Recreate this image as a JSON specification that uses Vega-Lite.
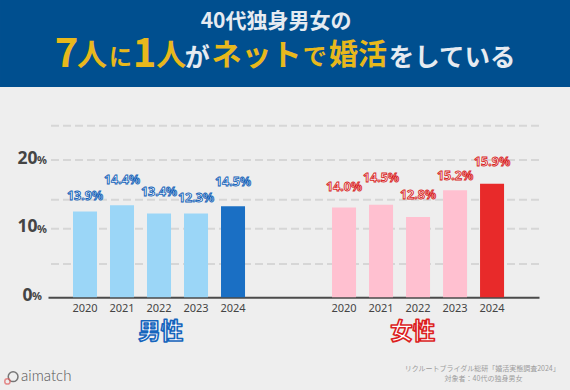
{"$schema":"https://vega.github.io/schema/vega-lite/v6.json","width":491,"height":171.6,"autosize":"none","padding":{"left":48,"top":125.7,"right":31,"bottom":92.7},"background":"#eeeeee","view":{"stroke":null},"config":{"font":"Noto Sans CJK JP"},
"datasets":{"bars":[
{"slot":"男性2020","series":"男性","kind":"男性過去","rate":12.5,"label":"13.9%","labelAt":14.76},
{"slot":"男性2021","series":"男性","kind":"男性過去","rate":13.4,"label":"14.4%","labelAt":17.1},
{"slot":"男性2022","series":"男性","kind":"男性過去","rate":12.2,"label":"13.4%","labelAt":15.4},
{"slot":"男性2023","series":"男性","kind":"男性過去","rate":12.2,"label":"12.3%","labelAt":14.4},
{"slot":"男性2024","series":"男性","kind":"男性最新","rate":13.25,"label":"14.5%","labelAt":16.8},
{"slot":"女性2020","series":"女性","kind":"女性過去","rate":13.1,"label":"14.0%","labelAt":16.0},
{"slot":"女性2021","series":"女性","kind":"女性過去","rate":13.5,"label":"14.5%","labelAt":17.4},
{"slot":"女性2022","series":"女性","kind":"女性過去","rate":11.7,"label":"12.8%","labelAt":14.9},
{"slot":"女性2023","series":"女性","kind":"女性過去","rate":15.6,"label":"15.2%","labelAt":17.6},
{"slot":"女性2024","series":"女性","kind":"女性最新","rate":16.55,"label":"15.9%","labelAt":19.7}],
"grid":[{"g":4.85},{"g":10},{"g":14.2},{"g":20},{"g":25}],
"heading":[
{"t":"7","u":9.6,"v":14.2,"s":40,"c":"#e8b81c"},
{"t":"人","u":13.5,"v":14.4,"s":30,"c":"#e8b81c"},
{"t":"に","u":19.1,"v":14.8,"s":23,"c":"#e8b81c"},
{"t":"1","u":23.3,"v":14.2,"s":40,"c":"#e8b81c"},
{"t":"人","u":27.4,"v":14.4,"s":30,"c":"#e8b81c"},
{"t":"が","u":32.4,"v":14.8,"s":25,"c":"#e6ebf1"},
{"t":"ネット","u":37.1,"v":14.4,"s":30,"c":"#e8b81c"},
{"t":"で","u":53.1,"v":14.8,"s":24,"c":"#e8b81c"},
{"t":"婚活","u":57.7,"v":14.4,"s":29,"c":"#e8b81c"},
{"t":"をしている","u":68.2,"v":14.8,"s":25.5,"c":"#e6ebf1"},
{"t":"40代独身男女の","u":35.2,"v":5.7,"s":21,"c":"#e6ebf1"}],
"banner":[{"u":0,"u2":100,"v":0,"v2":22.3}],
"logo":[{"u":2.3,"v":96.6,"s":95,"c":"#444444"},{"u":1.3,"v":97.8,"s":28,"c":"#e06060"}],
"brand":[{"t":"aimatch","u":3.7,"v":96.5}],
"source":[{"t":"リクルートブライダル総研「婚活実態調査2024」","u":71,"v":94.6},{"t":"対象者：40代の独身男女","u":78,"v":97.2}],
"gender":[{"t":"男性","u":28.2,"v":85.2,"c":"#1565bd"},{"t":"女性","u":72.4,"v":85.2,"c":"#dc1f1f"}],
"tens":[{"n":10,"t":"%"},{"n":20,"t":"%"}],"zero":[{"n":0,"t":"%"}]},
"layer":[
{"layer":[
{"data":{"name":"banner"},"mark":{"type":"rect","fill":"#004f8f"},"encoding":{"x":{"field":"u","type":"quantitative","axis":null},"x2":{"field":"u2"},"y":{"field":"v","type":"quantitative","axis":null},"y2":{"field":"v2"}}},
{"data":{"name":"heading"},"mark":{"type":"text","fontWeight":"bold","align":"left","baseline":"middle"},"encoding":{"x":{"field":"u","type":"quantitative","axis":null},"y":{"field":"v","type":"quantitative","axis":null},"text":{"field":"t"},"size":{"field":"s","type":"quantitative","scale":null},"color":{"field":"c","type":"nominal","scale":null}}},
{"data":{"name":"gender"},"mark":{"type":"text","fontWeight":"bold","fontSize":22.5,"align":"center","baseline":"middle","strokeWidth":1.6,"strokeJoin":"round","fill":"#ffffff"},"encoding":{"x":{"field":"u","type":"quantitative","axis":null},"y":{"field":"v","type":"quantitative","axis":null},"text":{"field":"t"},"stroke":{"field":"c","type":"nominal","scale":null}}},
{"data":{"name":"logo"},"mark":{"type":"point","shape":"circle","filled":false,"strokeWidth":1.5},"encoding":{"x":{"field":"u","type":"quantitative","axis":null},"y":{"field":"v","type":"quantitative","axis":null},"size":{"field":"s","type":"quantitative","scale":null},"color":{"field":"c","type":"nominal","scale":null}}},
{"data":{"name":"brand"},"mark":{"type":"text","font":"Lato","fontSize":15,"fontWeight":300,"align":"left","baseline":"middle","color":"#555555"},"encoding":{"x":{"field":"u","type":"quantitative","axis":null},"y":{"field":"v","type":"quantitative","axis":null},"text":{"field":"t"}}},
{"data":{"name":"source"},"mark":{"type":"text","fontSize":7,"align":"left","baseline":"middle","color":"#9c9c9c"},"encoding":{"x":{"field":"u","type":"quantitative","axis":null},"y":{"field":"v","type":"quantitative","axis":null},"text":{"field":"t"}}}],
"encoding":{"x":{"scale":{"domain":[8.42,94.56],"nice":false,"zero":false}},"y":{"scale":{"domain":[32.23,76.23],"reverse":true,"nice":false,"zero":false}}}},
{"layer":[
{"data":{"name":"grid"},"mark":{"type":"rule","color":"#d6d6d6","strokeWidth":2,"strokeDash":[8,4]},"encoding":{"y":{"field":"g","type":"quantitative","title":null,"scale":{"domain":[0,25],"nice":false},"axis":{"values":[0,10,20],"labelAlign":"center","labelPadding":21,"labelOffset":-2,"labelFontSize":17.5,"labelFont":"Noto Sans","labelFontWeight":"bold","labelColor":"#444444","ticks":false,"domain":false,"grid":false}}}},
{"data":{"name":"bars"},"mark":{"type":"bar"},"encoding":{"x":{"field":"slot","type":"ordinal","sort":null,"title":null,"scale":{"domain":["男性2020","男性2021","男性2022","男性2023","男性2024"," ","  ","女性2020","女性2021","女性2022","女性2023","女性2024"],"paddingInner":0.351,"paddingOuter":0.81,"align":0.417},"axis":{"labelExpr":"slice(datum.value,-4)","labelAngle":0,"labelFontSize":11,"labelFont":"Noto Sans","labelColor":"#444444","labelPadding":5,"ticks":false,"domainColor":"#4a4a4a","domainWidth":2,"grid":false}},"y":{"field":"rate","type":"quantitative"},"color":{"field":"kind","type":"nominal","legend":null,"scale":{"domain":["男性過去","男性最新","女性過去","女性最新"],"range":["#9bd6f7","#1a6fc4","#ffc0d0","#e82a2a"]}}}},
{"data":{"name":"bars"},"mark":{"type":"text","fontSize":12.5,"font":"Noto Sans","fontWeight":"bold","fill":"#ffffff","strokeWidth":0.9,"baseline":"middle"},"encoding":{"x":{"field":"slot","type":"ordinal","sort":null},"y":{"field":"labelAt","type":"quantitative"},"text":{"field":"label"},"stroke":{"field":"series","type":"nominal","legend":null,"scale":{"domain":["男性","女性"],"range":["#1262b8","#d81e1e"]}}}},
{"data":{"name":"tens"},"mark":{"type":"text","fontSize":11,"font":"Noto Sans","fontWeight":"bold","color":"#444444","align":"center","baseline":"middle","dx":-43,"dy":1},"encoding":{"y":{"field":"n","type":"quantitative"},"x":{"datum":"男性2020"},"text":{"field":"t"}}},
{"data":{"name":"zero"},"mark":{"type":"text","fontSize":11,"font":"Noto Sans","fontWeight":"bold","color":"#444444","align":"center","baseline":"middle","dx":-48,"dy":0},"encoding":{"y":{"field":"n","type":"quantitative"},"x":{"datum":"男性2020"},"text":{"field":"t"}}}]}
],"resolve":{"scale":{"x":"independent","y":"independent"},"axis":{"x":"independent","y":"independent"}}}
